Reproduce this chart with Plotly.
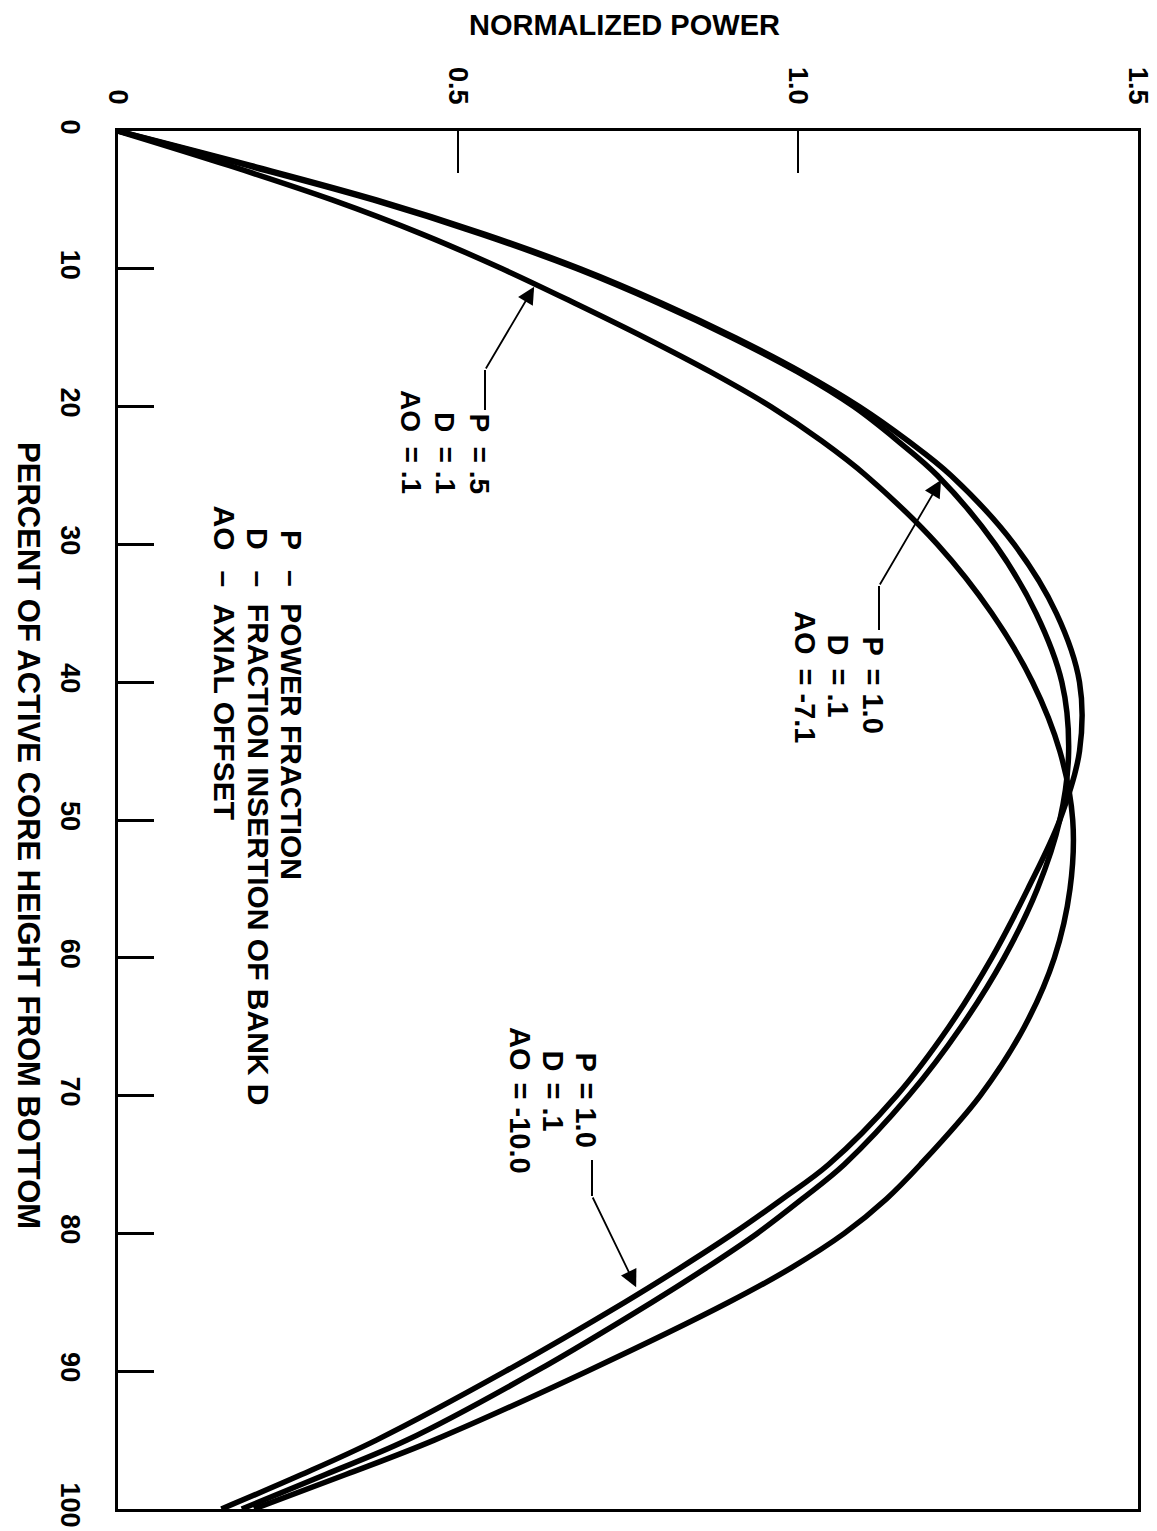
import plotly.graph_objects as go

# ---------------- data ----------------
height_pct = [0, 2.5, 5, 7.5, 10, 12.5, 15, 17.5, 20, 22.5, 25, 30, 35, 40, 45, 50,
              55, 60, 65, 70, 75, 77.5, 80, 82.5, 85, 90, 95, 97.5, 100]

# P = .5, D = .1, AO = .1
power_p05_ao01 = [0, 0.163, 0.315, 0.448, 0.565, 0.672, 0.775, 0.872, 0.96, 1.035,
                  1.10, 1.205, 1.285, 1.345, 1.385, 1.404, 1.40, 1.377, 1.333, 1.268,
                  1.18, 1.13, 1.068, 0.99, 0.898, 0.69, 0.465, 0.335, 0.20]
# P = 1.0, D = .1, AO = -7.1
power_p10_ao71 = [0, 0.19, 0.375, 0.535, 0.675, 0.795, 0.903, 1.0, 1.082, 1.147,
                  1.205, 1.29, 1.35, 1.388, 1.398, 1.385, 1.352, 1.303, 1.24, 1.163,
                  1.068, 1.006, 0.94, 0.865, 0.785, 0.615, 0.425, 0.305, 0.182]
# P = 1.0, D = .1, AO = -10.0
power_p10_ao100 = [0, 0.195, 0.38, 0.54, 0.68, 0.80, 0.908, 1.005, 1.09, 1.162,
                   1.225, 1.318, 1.38, 1.414, 1.414, 1.385, 1.338, 1.285, 1.222, 1.145,
                   1.045, 0.977, 0.905, 0.827, 0.745, 0.57, 0.38, 0.27, 0.152]

x_tickvals = [0, 0.5, 1.0, 1.5]
x_ticktext = ["0", "0.5", "1.0", "1.5"]
y_tickvals = [0, 10, 20, 30, 40, 50, 60, 70, 80, 90, 100]
y_ticktext = ["0", "10", "20", "30", "40", "50", "60", "70", "80", "90", "100"]

series = [power_p05_ao01, power_p10_ao71, power_p10_ao100]

FONT = "Liberation Sans, Arial, Helvetica, sans-serif"

fig = go.Figure()
for vals in series:
    fig.add_trace(go.Scatter(
        x=vals, y=height_pct, mode="lines",
        line=dict(color="black", width=5.5, shape="spline", smoothing=1.0),
        hoverinfo="skip", showlegend=False))

fig.update_layout(
    width=1157, height=1531,
    margin=dict(l=110, r=27, t=123, b=30),
    paper_bgcolor="white", plot_bgcolor="white",
    showlegend=False,
    font=dict(family=FONT, color="black", size=28, weight="bold"),
)

fig.update_xaxes(
    range=[0, 1.5], side="top",
    tickmode="array", tickvals=x_tickvals, ticktext=x_ticktext,
    tickangle=90, ticks="inside", ticklen=42, tickwidth=2, tickcolor="black",
    tickfont=dict(family=FONT, size=27, color="black", weight="bold"),
    ticklabelstandoff=14,
    showline=True, linewidth=3, linecolor="black", mirror=True,
    showgrid=False, zeroline=False, fixedrange=True)

fig.update_yaxes(
    range=[100, 0],
    tickmode="array", tickvals=y_tickvals, ticktext=y_ticktext,
    tickangle=90, ticks="inside", ticklen=36, tickwidth=3, tickcolor="black",
    tickfont=dict(family=FONT, size=27, color="black", weight="bold"),
    ticklabelstandoff=22,
    showline=True, linewidth=3, linecolor="black", mirror=True,
    showgrid=False, zeroline=False, fixedrange=True)

# rotated text boxes sit a little right of the glyphs; compensate
XSHIFT = -6


def h_of(px):
    return (px - 123) / 13.78


def p_of(px):
    return (px - 110) / 680.0


def add_group(xs_px, end_px, start_px, labels, values, size):
    for xp, lab, val in zip(xs_px, labels, values):
        fig.add_annotation(x=p_of(xp + XSHIFT), y=h_of(end_px), text=lab, textangle=90,
                           xanchor="center", yanchor="bottom", showarrow=False,
                           borderpad=0,
                           font=dict(family=FONT, size=size, color="black", weight="bold"))
        fig.add_annotation(x=p_of(xp + XSHIFT), y=h_of(start_px), text=val, textangle=90,
                           xanchor="center", yanchor="top", showarrow=False,
                           borderpad=0,
                           font=dict(family=FONT, size=size, color="black", weight="bold"))


def add_leader(xp, y1_px, y2_px, tip_x, tip_h):
    fig.add_shape(type="line", xref="x", yref="y",
                  x0=p_of(xp), x1=p_of(xp), y0=h_of(y1_px), y1=h_of(y2_px),
                  line=dict(color="black", width=2))
    fig.add_annotation(x=tip_x, y=tip_h, ax=p_of(xp), ay=h_of(y2_px),
                       axref="x", ayref="y", xref="x", yref="y", text="",
                       showarrow=True, arrowhead=2, arrowsize=1.9, arrowwidth=1.8,
                       arrowcolor="black", standoff=0, startstandoff=0)


# curve labels
add_group([477, 443, 409], 425, 437, ["P", "D", "AO"], ["= .5", "= .1", "= .1"], 28)
add_leader(477, 402, 362, 0.612, 11.3)

add_group([871, 836, 803], 648, 659, ["P", "D", "AO"], ["= 1.0", "= .1", "= -7.1"], 29)
add_leader(871, 622, 578, 1.2103, 25.33)

add_group([584, 551, 518], 1064, 1073, ["P", "D", "AO"], ["= 1.0", "= .1", "= -10.0"], 29)
add_leader(584, 1152, 1188, 0.762, 83.9)

# key
add_group([290, 256, 222], 543, 561, ["P", "D", "AO"],
          ["\u2013\u00a0\u00a0POWER FRACTION",
           "\u2013\u00a0\u00a0FRACTION INSERTION OF BANK D",
           "\u2013\u00a0\u00a0AXIAL OFFSET"], 30)

# axis titles
fig.add_annotation(x=0.497, y=1 + 123 / 1378.0, xref="paper", yref="paper",
                   text="NORMALIZED POWER", showarrow=False,
                   xanchor="center", yanchor="top", borderpad=0,
                   font=dict(family=FONT, size=29, color="black", weight="bold"))
fig.add_annotation(x=-0.0885, y=0.4885, xref="paper", yref="paper",
                   text="PERCENT OF ACTIVE CORE HEIGHT FROM BOTTOM", showarrow=False,
                   textangle=90, xanchor="center", yanchor="middle",
                   font=dict(family=FONT, size=31, color="black", weight="bold"))

fig.write_html("out.html")
